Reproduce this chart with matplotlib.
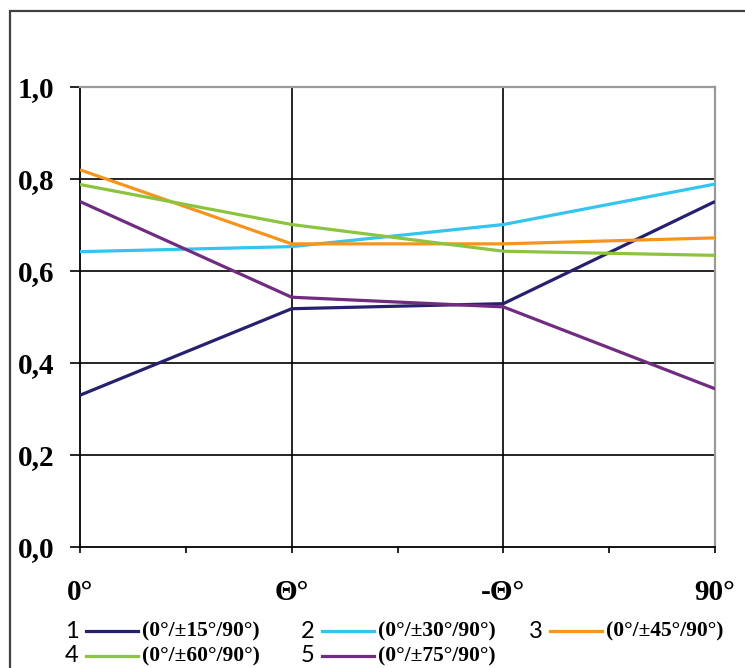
import matplotlib
matplotlib.use("Agg")
import matplotlib.pyplot as plt
from matplotlib.lines import Line2D
from matplotlib.patches import Rectangle
from matplotlib.ticker import MultipleLocator

categories = ["0°", "Θ°", "-Θ°", "90°"]
series_numbers = ["1", "2", "3", "4", "5"]
series_labels = ["(0°/±15°/90°)", "(0°/±30°/90°)", "(0°/±45°/90°)",
                 "(0°/±60°/90°)", "(0°/±75°/90°)"]
s1 = [0.330, 0.518, 0.529, 0.751]
s2 = [0.642, 0.653, 0.701, 0.789]
s3 = [0.820, 0.659, 0.659, 0.672]
s4 = [0.788, 0.701, 0.643, 0.634]
s5 = [0.751, 0.543, 0.522, 0.344]
series = [s1, s2, s3, s4, s5]
colors = ["#26206E", "#33C4F0", "#F7941D", "#8CC43F", "#702C80"]
y_ticks = [0.0, 0.2, 0.4, 0.6, 0.8, 1.0]
y_tick_labels = ["0,0", "0,2", "0,4", "0,6", "0,8", "1,0"]

plt.rcParams['font.family'] = ['Liberation Serif', 'DejaVu Serif']

fig = plt.figure(figsize=(7.45, 6.68), dpi=100)
ax = fig.add_axes([80/745, (668-547)/668, (715-80)/745, (547-87)/668])

x = list(range(len(categories)))
for vals, c in zip(series, colors):
    ax.plot(x, vals, color=c, lw=2.3, solid_capstyle='butt', zorder=3)

ax.set_xlim(0, len(categories) - 1)
ax.set_ylim(0, 1.0)
ax.set_yticks(y_ticks)
ax.set_yticklabels(y_tick_labels, fontsize=21, fontweight='bold')
ax.xaxis.set_major_locator(MultipleLocator(0.5))
ax.set_xticklabels([])
ax.tick_params(axis='x', direction='out', length=4, width=1.2, color='black')
ax.tick_params(axis='y', direction='out', length=7.5, width=1.2, color='black', pad=11)

for xi, lab in zip(x, categories):
    ax.text(xi, -0.1, lab, transform=ax.get_xaxis_transform(),
            ha='center', va='center', fontsize=21, fontweight='bold')

ax.grid(False)
for yv in y_ticks[1:-1]:
    ax.axhline(yv, color='black', lw=1.2, zorder=1)
for xi in x[1:-1]:
    ax.axvline(xi, color='black', lw=1.2, zorder=1)

ax.spines['left'].set_color('black')
ax.spines['bottom'].set_color('black')
ax.spines['left'].set_linewidth(1.3)
ax.spines['bottom'].set_linewidth(1.3)
ax.spines['top'].set_color('#9a9a9a')
ax.spines['right'].set_color('#9a9a9a')
ax.spines['top'].set_linewidth(1.6)
ax.spines['right'].set_linewidth(1.6)

# outer frame (partially cut by image edge)
fig.patches.append(Rectangle((10/745, -0.05), 1.1, (668-11)/668 + 0.05,
                             transform=fig.transFigure, fill=False,
                             edgecolor='#404040', lw=1.6, clip_on=False))

# manual legend: number, line, label
col_x = [65, 301, 529]
row_y = [631, 656]
for i, (num, lab, c) in enumerate(zip(series_numbers, series_labels, colors)):
    r, ccol = divmod(i, 3)
    px = col_x[ccol]
    py = row_y[r]
    fy = 1 - py/668
    fig.text(px/745, fy, num, ha='left', va='center', fontsize=17,
             family=['Lato', 'DejaVu Sans'])
    fig.add_artist(Line2D([(px+21)/745, (px+73)/745], [fy, fy], color=c, lw=2.3,
                          transform=fig.transFigure))
    fig.text((px+77)/745, fy, lab, ha='left', va='center', fontsize=15.5,
             fontweight='bold')

fig.savefig("out.png", dpi=100, facecolor='white')
